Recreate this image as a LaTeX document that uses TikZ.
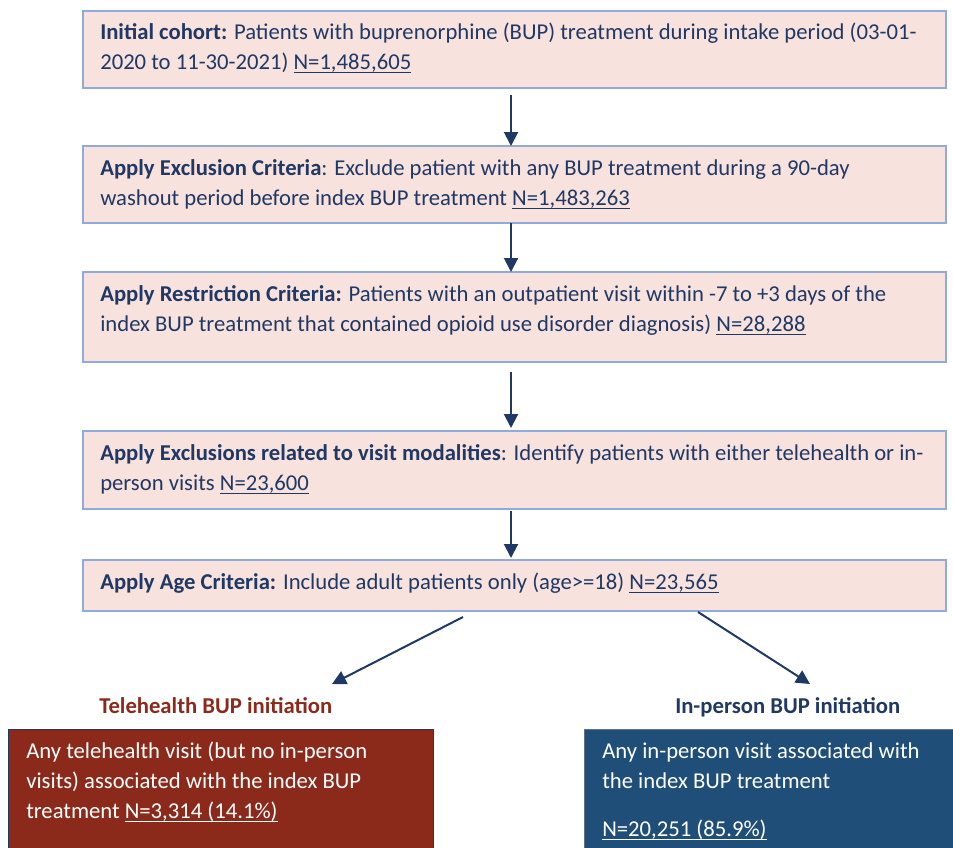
\documentclass[tikz,border=0pt]{standalone}
\usepackage{fontspec}
\setmainfont{Carlito}
\usetikzlibrary{arrows.meta,calc}
\definecolor{boxfill}{HTML}{F8E2DD}
\definecolor{boxline}{HTML}{8FAADC}
\definecolor{navy}{HTML}{1F3864}
\definecolor{telered}{HTML}{8B2A1B}
\definecolor{inblue}{HTML}{1F4E79}
\newlength\ulw
\newcommand\myul[1]{\settowidth\ulw{#1}\rlap{\rule[-2.6pt]{\ulw}{0.9pt}}#1}
\begin{document}
\begin{tikzpicture}[x=0.75pt,y=-0.75pt,
  box/.style={draw=boxline, fill=boxfill, line width=1.1pt, anchor=north west, inner sep=0pt, outer sep=0pt, minimum width=647.25pt},
  txt/.style={anchor=north west, inner sep=0pt, align=left, font=\fontsize{17}{22.5}\selectfont, text=navy},
  wtxt/.style={txt, text=white},
  lab/.style={anchor=north west, inner sep=0pt, font=\fontsize{17}{22.5}\selectfont\bfseries},
  arr/.style={draw=navy, line width=1.5pt, -{Triangle[length=10.5pt,width=10.5pt]}}]
\useasboundingbox (0,0) rectangle (953,847);
\clip (0,0) rectangle (953,847);
% main boxes
\node[box, minimum height=57.75pt] (b1) at (83,11) {};
\node[box, minimum height=57.75pt] (b2) at (83,146) {};
\node[box, minimum height=67.5pt] (b3) at (83,272) {};
\node[box, minimum height=58.5pt] (b4) at (83,431) {};
\node[box, minimum height=38.25pt] (b5) at (83,560) {};
% texts
\node[txt] (t1) at (100,18) {\strut\textbf{Initial cohort:} Patients with buprenorphine (BUP) treatment during intake period (03-01-\\2020 to 11-30-2021) \myul{N=1,485,605}};
\node[txt] (t2) at (100,154) {\strut\textbf{Apply Exclusion Criteria}: Exclude patient with any BUP treatment during a 90-day\\washout period before index BUP treatment \myul{N=1,483,263}};
\node[txt] (t3) at (100,280) {\strut\textbf{Apply Restriction Criteria:} Patients with an outpatient visit within -7 to +3 days of the\\index BUP treatment that contained opioid use disorder diagnosis) \myul{N=28,288}};
\node[txt] (t4) at (100,439) {\strut\textbf{Apply Exclusions related to visit modalities}: Identify patients with either telehealth or in-\\person visits \myul{N=23,600}};
\node[txt] (t5) at (100,568) {\strut\textbf{Apply Age Criteria:} Include adult patients only (age>=18) \myul{N=23,565}};
% arrows
\draw[arr] ($(b1.south)+(-3.5,7)$) -- ($(b2.north)+(-3.5,0)$);
\draw[arr] ($(b2.south)+(-3.5,0)$) -- ($(b3.north)+(-3.5,0)$);
\draw[arr] ($(b3.south)+(-3.5,10)$) -- ($(b4.north)+(-3.5,-3)$);
\draw[arr] ($(b4.south)+(-3.5,2)$) -- ($(b5.north)+(-3.5,-2)$);
% branch labels
\node[lab, text=telered] (l1) at (99,692) {\strut Telehealth BUP initiation};
\node[lab, text=navy] (l2) at (675,692) {\strut In-person BUP initiation};
\coordinate (e1) at (332,684);
\coordinate (e2) at (810,684);
\draw[arr] ($(b5.south west)+(380,6)$) -- (e1);
\draw[arr] ($(b5.south west)+(615,1)$) -- (e2);
% outcome boxes
\node[draw=navy, fill=telered, line width=0.9pt, anchor=north west, inner sep=0pt, minimum width=318.75pt, minimum height=110pt] (c1) at (8,729) {};
\node[draw=gray!70!inblue, fill=inblue, line width=0.9pt, anchor=north west, inner sep=0pt, minimum width=290pt, minimum height=110pt] (c2) at (584,729) {};
\node[wtxt] (ct1) at (26,737) {\strut Any telehealth visit (but no in-person\\visits) associated with the index BUP\\treatment \myul{N=3,314 (14.1\%)}};
\node[wtxt] (ct2) at (602,737) {\strut Any in-person visit associated with\\the index BUP treatment\\[13.5pt]\myul{N=20,251 (85.9\%)}};
\end{tikzpicture}
\end{document}
